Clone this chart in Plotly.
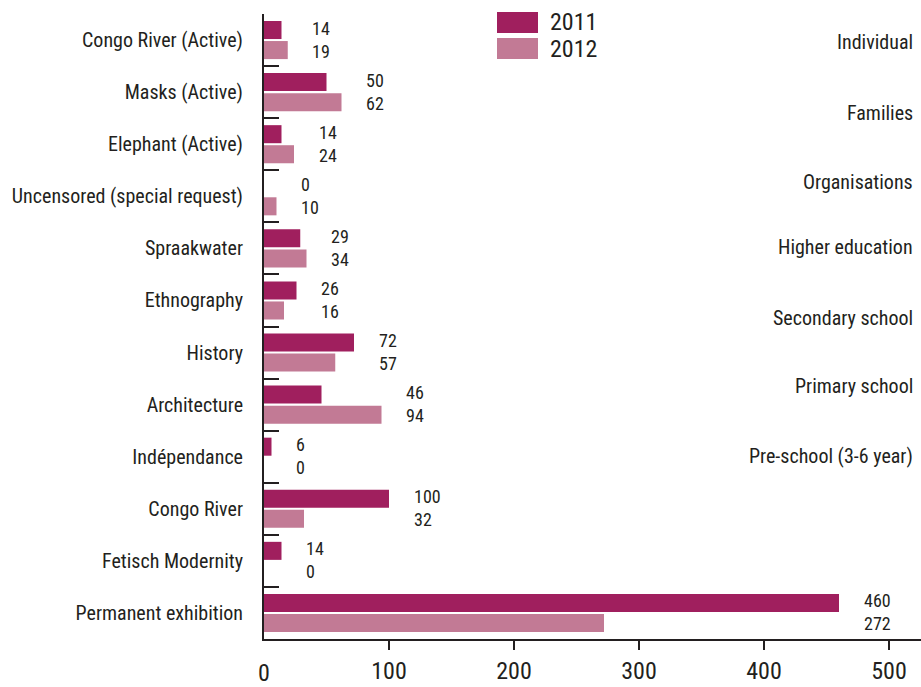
import plotly.graph_objects as go

# Visitor counts per activity, 2011 vs 2012
categories = [
    "Congo River (Active)", "Masks (Active)", "Elephant (Active)",
    "Uncensored (special request)", "Spraakwater", "Ethnography", "History",
    "Architecture", "Indépendance", "Congo River", "Fetisch Modernity",
    "Permanent exhibition",
]
values_2011 = [14, 50, 14, 0, 29, 26, 72, 46, 6, 100, 14, 460]
values_2012 = [19, 62, 24, 10, 34, 16, 57, 94, 0, 32, 0, 272]
series_names = ["2011", "2012"]
x_tick_values = [0, 100, 200, 300, 400, 500]

# Visitor-type captions shown along the right edge
side_labels = ["Individual", "Families", "Organisations", "Higher education",
               "Secondary school", "Primary school", "Pre-school (3-6 year)"]

COL_2011 = "#A01F5E"
COL_2012 = "#C27A95"
INK = "#231F20"
FONT = "Liberation Sans Narrow, Roboto Condensed, Liberation Sans, sans-serif"

W, H = 921, 687
M_L, M_R, M_T, M_B = 264, 0, 14, 48
PX_PER_UNIT = 1.25
x_max = (W - M_L - M_R) / PX_PER_UNIT

fig = go.Figure()
for name, vals, col in [(series_names[0], values_2011, COL_2011),
                        (series_names[1], values_2012, COL_2012)]:
    fig.add_trace(go.Bar(
        y=categories, x=vals, name=name, orientation="h",
        marker=dict(color=col, line=dict(width=0)),
        showlegend=False, hoverinfo="x+name",
    ))

annotations = []
# value labels, both aligned just past the longer bar of each pair
for cat, a, b in zip(categories, values_2011, values_2012):
    x_lab = max(a, b) + 18
    for v, shift in [(a, 12), (b, -11)]:
        annotations.append(dict(
            x=x_lab, y=cat, xref="x", yref="y", text=str(v),
            showarrow=False, xanchor="left", yanchor="middle", yshift=shift,
            font=dict(family=FONT, size=18, color=INK),
        ))

# zero tick label (the axis itself carries no tick mark at 0)
plot_h = H - M_T - M_B
def py_to_paper(py):
    return (H - M_B - py) / plot_h

annotations.append(dict(
    x=0, y=py_to_paper(673), xref="x", yref="paper", text="0",
    showarrow=False, xanchor="center", yanchor="middle",
    font=dict(family=FONT, size=24, color=INK),
))

# right-hand captions
side_y = [42, 113, 182, 247, 318, 386, 456]
for lab, py in zip(side_labels, side_y):
    annotations.append(dict(
        x=(915 - M_L) / (W - M_L - M_R), y=py_to_paper(py), xref="paper", yref="paper",
        text=lab, showarrow=False, xanchor="right", yanchor="middle",
        font=dict(family=FONT, size=20, color=INK),
    ))

# legend drawn as swatches + labels
def px_to_xpaper(px):
    return (px - M_L) / (W - M_L - M_R)

shapes = []
for i, (name, col) in enumerate([(series_names[0], COL_2011), (series_names[1], COL_2012)]):
    top = 12 + i * 26
    shapes.append(dict(
        type="rect", xref="paper", yref="paper",
        x0=px_to_xpaper(497), x1=px_to_xpaper(538),
        y0=py_to_paper(top + 21), y1=py_to_paper(top),
        fillcolor=col, line=dict(width=0), layer="above",
    ))
    annotations.append(dict(
        x=px_to_xpaper(548), y=py_to_paper(top + 10.5), xref="paper", yref="paper",
        text=name, showarrow=False, xanchor="left", yanchor="middle",
        font=dict(family=FONT, size=24, color=INK),
    ))

fig.update_layout(
    width=W, height=H,
    margin=dict(l=M_L, r=M_R, t=M_T, b=M_B, pad=0),
    paper_bgcolor="white", plot_bgcolor="white",
    barmode="group", bargap=0.23, bargroupgap=0.1,
    font=dict(family=FONT, color=INK),
    annotations=annotations, shapes=shapes,
)
fig.update_xaxes(
    range=[0, x_max], tickvals=x_tick_values[1:],
    ticktext=[str(v) for v in x_tick_values[1:]],
    ticks="outside", ticklen=9, tickwidth=2, tickcolor=INK,
    showline=True, linecolor=INK, linewidth=2,
    showgrid=False, zeroline=False,
    tickfont=dict(family=FONT, size=24, color=INK),
)
fig.update_yaxes(
    categoryorder="array", categoryarray=categories, autorange="reversed",
    tickson="boundaries", ticks="inside", ticklen=15, tickwidth=2, tickcolor=INK,
    showline=True, linecolor=INK, linewidth=2,
    showgrid=False, zeroline=False, ticklabelstandoff=15,
    tickfont=dict(family=FONT, size=20, color=INK),
)

fig.write_html("out.html")
